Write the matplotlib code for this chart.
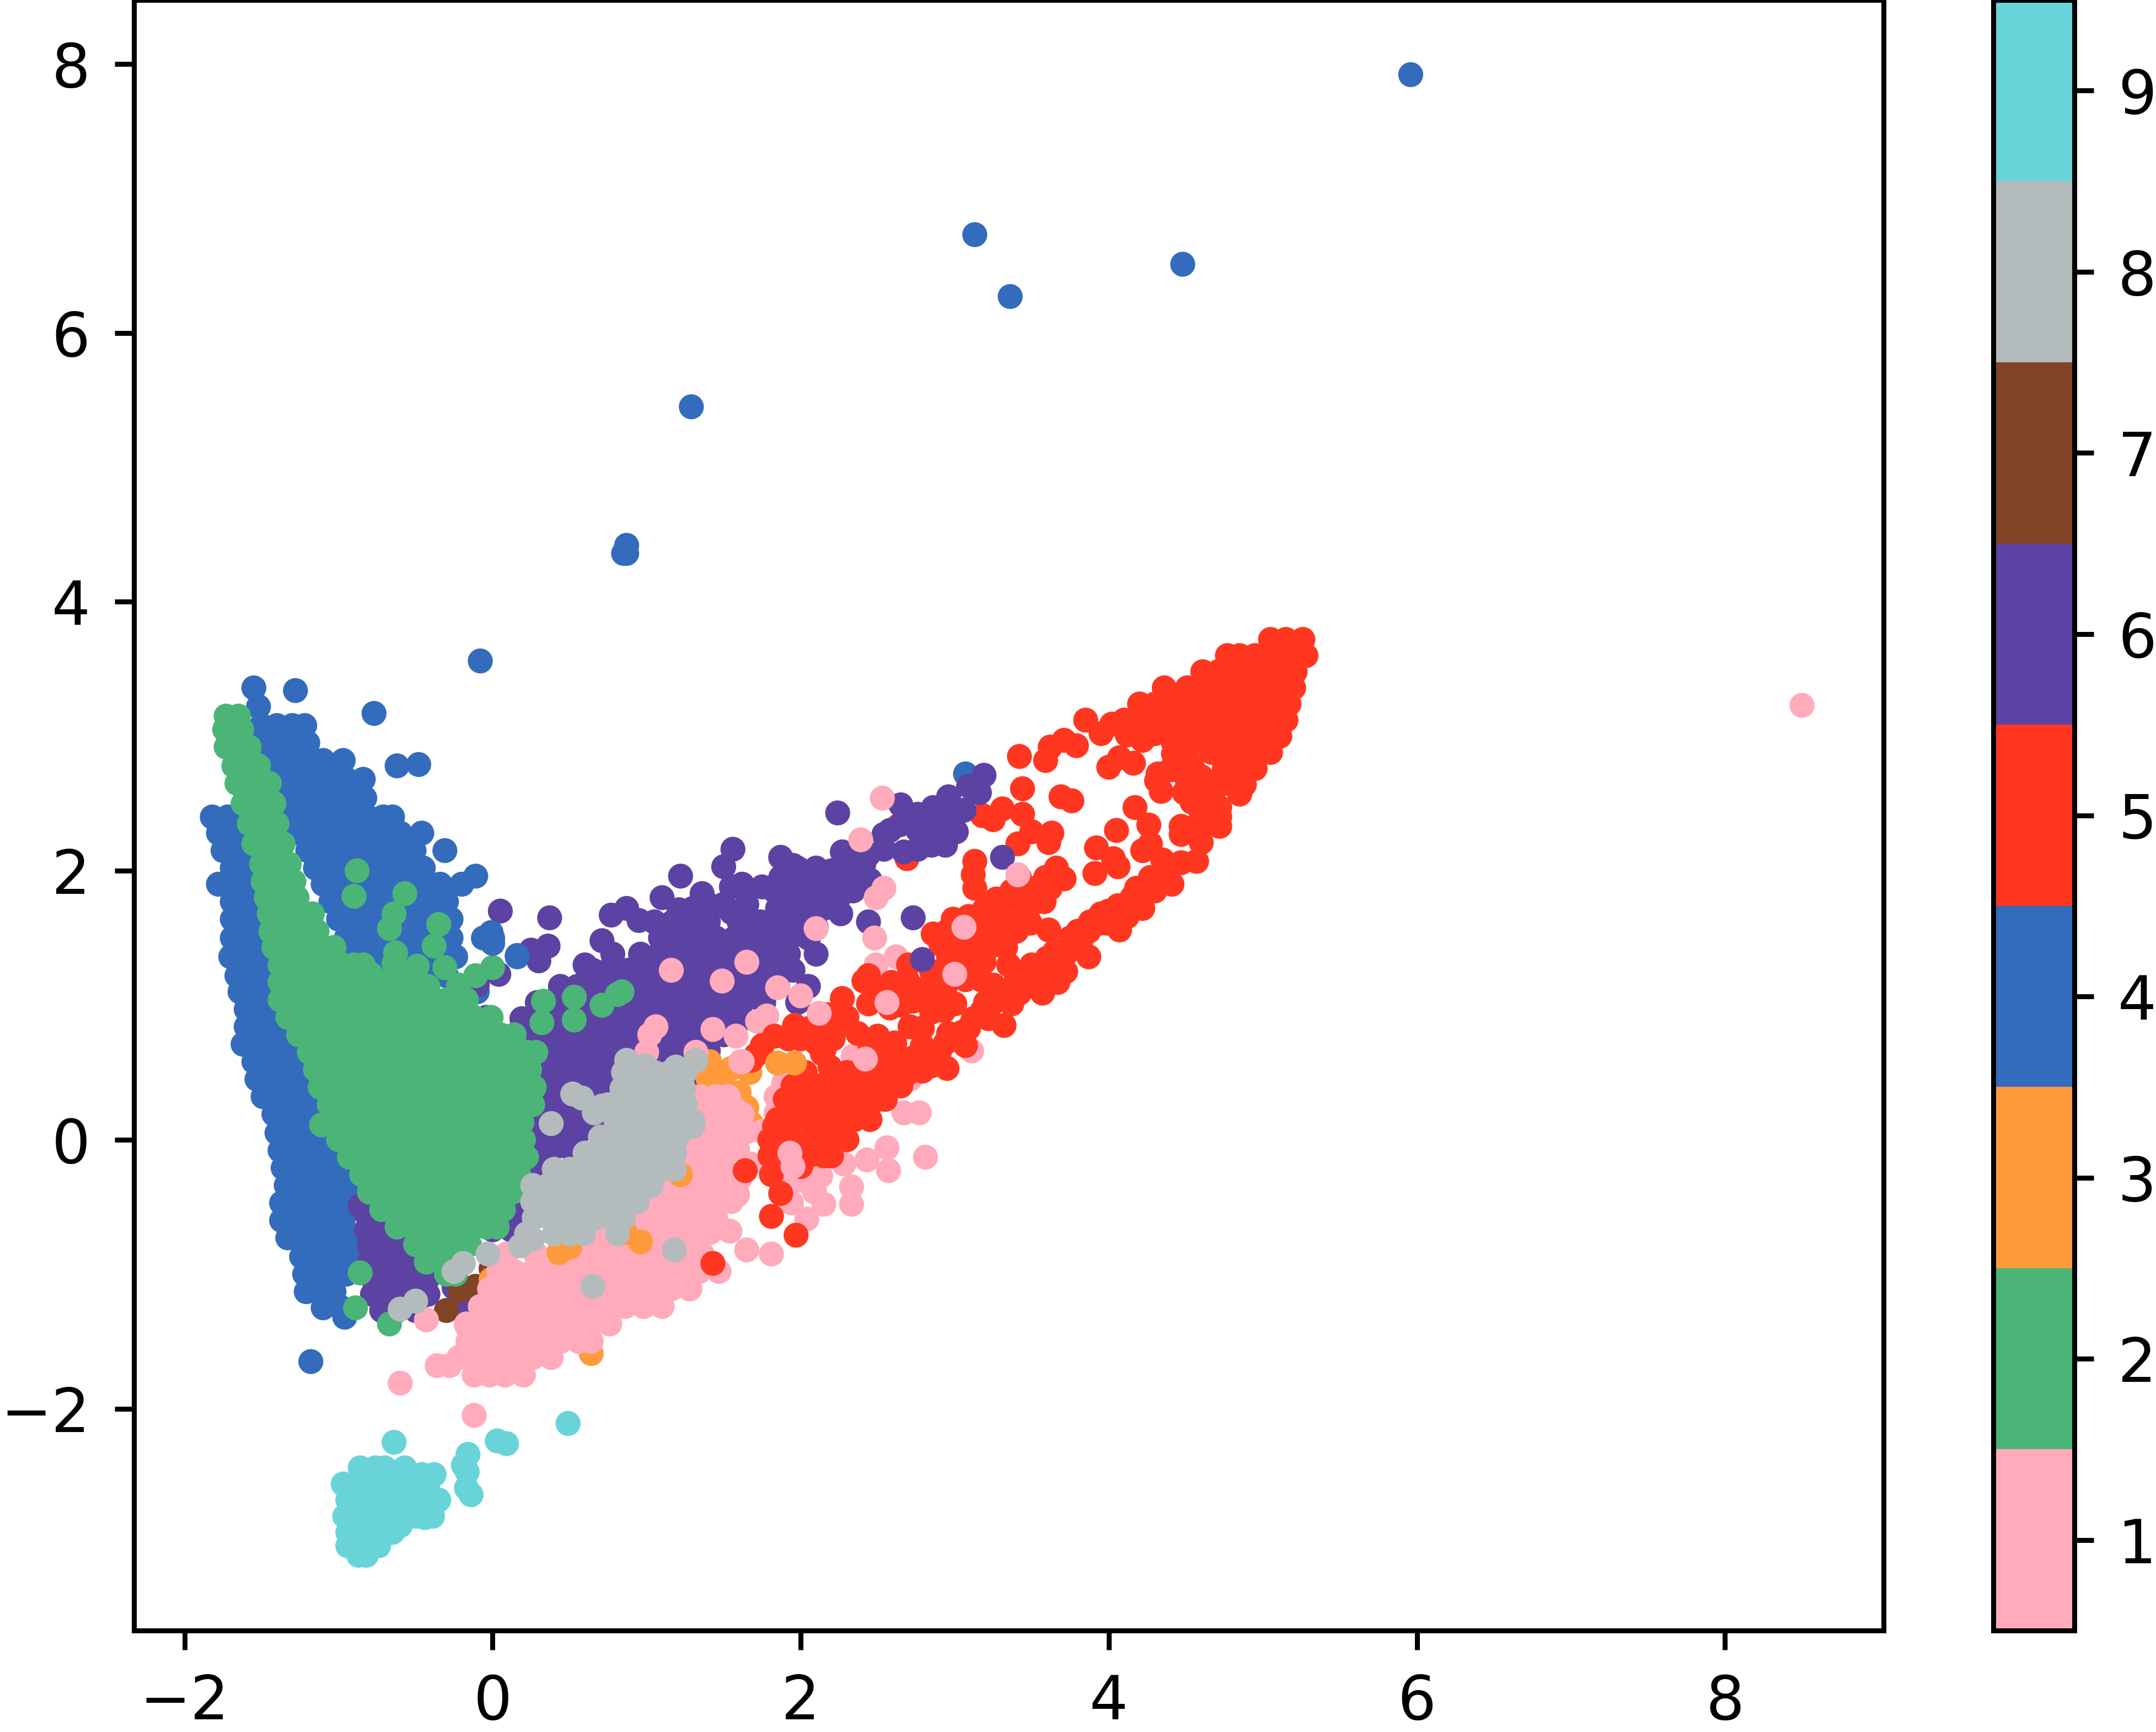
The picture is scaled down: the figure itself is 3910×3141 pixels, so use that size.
import matplotlib
matplotlib.use('Agg')
import matplotlib.pyplot as plt
from matplotlib.colors import ListedColormap, BoundaryNorm

W, H, DPI = 3910, 3141, 720

class_colors = ['#FFABBB', '#4AB577', '#FF9A3A', '#336CBC', '#FF3720', '#5C43A3', '#804325', '#B4BBBD', '#68D4D9']
class_ticks = [1, 2, 3, 4, 5, 6, 7, 8, 9]
x_ticks = [-2, 0, 2, 4, 6, 8]
y_ticks = [-2, 0, 2, 4, 6, 8]

# dense clusters are written row by row: {y: [x, x, ...]}
blue_rows = {
    3.22: [-1.52], 3.08: [-1.5, -1.4, -1.3, -1.22], 2.95: [-1.5, -1.4, -1.3, -1.2],
    2.82: [-1.47, -1.37, -1.27, -1.17, -1.1, -0.97],
    2.68: [-1.45, -1.35, -1.25, -1.15, -1.05, -0.95, -0.84],
    2.54: [-1.43, -1.33, -1.23, -1.13, -1.03, -0.93, -0.83],
    2.40: [-1.82, -1.72, -1.41, -1.31, -1.21, -1.11, -1.01, -0.91, -0.81, -0.71, -0.65],
    2.28: [-1.78, -1.68, -1.58, -1.3, -1.2, -1.1, -1.0, -0.9, -0.8, -0.7, -0.6, -0.46],
    2.15: [-1.75, -1.65, -1.55, -1.2, -1.1, -1.0, -0.9, -0.8, -0.7, -0.6, -0.51, -0.31],
    2.02: [-1.69, -1.59, -1.5, -1.15, -1.05, -0.95, -0.85, -0.75, -0.65, -0.55, -0.45],
    1.90: [-1.78, -1.68, -1.58, -1.48, -1.1, -1.0, -0.9, -0.8, -0.7, -0.6, -0.5, -0.4, -0.34, -0.20],
    1.77: [-1.69, -1.59, -1.49, -1.05, -0.95, -0.85, -0.75, -0.65, -0.55, -0.46, -0.38, -0.30],
    1.64: [-1.69, -1.59, -1.49, -1.39, -1.0, -0.9, -0.8, -0.7, -0.6, -0.5, -0.4, -0.27],
    1.50: [-1.69, -1.59, -1.49, -1.39, -0.95, -0.85, -0.75, -0.65, -0.55, -0.45, -0.27, -0.06, 0.0],
    1.36: [-1.70, -1.6, -1.5, -1.4, -1.0, -0.9, -0.8, -0.7, -0.6, -0.5, -0.42, -0.28, -0.24, 0.16],
    1.22: [-1.66, -1.56, -1.46, -1.36, -1.28, -0.95, -0.9, -0.8, -0.7, -0.4, -0.3],
    1.10: [-1.64, -1.54, -1.44, -1.34, -1.24, -0.2, -0.1],
    0.97: [-1.6, -1.5, -1.4, -1.3, -1.2], 0.84: [-1.6, -1.5, -1.4, -1.3, -1.2],
    0.71: [-1.62, -1.52, -1.42, -1.32, -1.22], 0.58: [-1.55, -1.45, -1.35, -1.25, -1.15],
    0.45: [-1.53, -1.43, -1.33, -1.23, -1.13], 0.32: [-1.49, -1.39, -1.29, -1.19, -1.09],
    0.19: [-1.42, -1.32, -1.22, -1.12, -1.02], 0.05: [-1.4, -1.3, -1.2, -1.1, -1.0],
    -0.08: [-1.38, -1.28, -1.18, -1.08, -0.98], -0.21: [-1.36, -1.26, -1.16, -1.06, -0.96],
    -0.34: [-1.34, -1.24, -1.14, -1.04, -0.94], -0.47: [-1.37, -1.27, -1.17, -1.07, -0.97, -0.88],
    -0.60: [-1.37, -1.27, -1.17, -1.07, -0.97], -0.73: [-1.33, -1.23, -1.13, -1.03, -0.93],
    -0.87: [-1.24, -1.14, -1.04, -0.94, -0.86], -1.0: [-1.22, -1.12, -1.02, -0.95],
    -1.13: [-1.21, -1.11, -1.03], -1.25: [-1.1, -0.98], -1.32: [-0.96],
}
blue_pts = [(5.96, 7.92), (3.13, 6.73), (4.48, 6.51), (3.36, 6.27), (1.29, 5.45), (0.87, 4.42),
            (0.87, 4.36), (0.85, 4.36), (-0.08, 3.56), (-1.55, 3.36), (-1.28, 3.34), (-0.77, 3.17),
            (-0.62, 2.78), (-0.48, 2.79), (3.07, 2.72), (-1.18, -1.65), (-0.11, 1.96)]

purple_rows = {
    1.62: [1.05, 1.17, 1.29, 1.40, 1.6, 1.7, 1.74, 1.85, 1.95],
    1.50: [1.09, 1.21, 1.33, 1.45, 1.57, 1.69, 1.81, 1.93, 2.05],
    1.38: [0.78, 0.96, 1.08, 1.20, 1.32, 1.44, 1.56, 1.68, 1.75, 1.85, 1.92, 2.10],
    1.26: [0.65, 0.75, 0.88, 1.0, 1.12, 1.24, 1.36, 1.48, 1.60, 1.72, 1.85, 1.95],
    1.14: [0.44, 0.55, 0.65, 0.78, 0.90, 1.02, 1.14, 1.26, 1.38, 1.50, 1.62, 1.74, 1.85, 2.05],
    1.02: [0.29, 0.42, 0.54, 0.66, 0.78, 0.90, 1.02, 1.14, 1.26, 1.38, 1.50, 1.62, 1.76, 1.98],
    0.90: [0.19, 0.32, 0.44, 0.56, 0.68, 0.80, 0.92, 1.04, 1.16, 1.28, 1.40, 1.52, 1.62],
    0.78: [0.2, 0.32, 0.44, 0.56, 0.68, 0.80, 0.92, 1.04, 1.16, 1.28, 1.40, 1.5],
    0.66: [0.25, 0.38, 0.5, 0.62, 0.74, 0.86, 0.98, 1.1, 1.22, 1.34, 1.4],
    0.54: [0.2, 0.32, 0.44, 0.56, 0.68, 0.8, 0.92, 1.04, 1.16, 1.2],
    0.42: [0.25, 0.38, 0.5, 0.62, 0.74, 0.86, 0.98, 1.1],
    0.30: [0.2, 0.32, 0.44, 0.56, 0.68, 0.8, 0.92, 1.0],
    0.18: [0.22, 0.34, 0.46, 0.58, 0.7, 0.85], 0.06: [0.2, 0.32, 0.44, 0.56, 0.7],
    -0.06: [0.15, 0.28, 0.4, 0.5], -0.18: [0.1, 0.2, 0.3],
    -0.55: [-0.82, -0.70, -0.58, 0.1, 0.2, 0.3], -0.67: [-0.82, -0.7, -0.58, -0.46, 0.0, 0.12, 0.22],
    -0.79: [-0.8, -0.68, -0.56, -0.44], -0.91: [-0.8, -0.68, -0.56, -0.44, -0.34],
    -1.03: [-0.78, -0.66, -0.54, -0.42], -1.15: [-0.78, -0.66, -0.54, -0.42], -1.27: [-0.72, -0.62, -0.5],
}
purple_pts = [(0.05, 1.70), (0.37, 1.65), (0.36, 1.44), (0.25, 1.41), (0.30, 1.33), (0.04, 1.23), (-0.10, 1.15),
              (-0.04, 0.91), (0.60, 1.30), (0.71, 1.48), (0.96, 1.31), (0.77, 1.67), (0.87, 1.72), (0.95, 1.63),
              (1.10, 1.80), (1.22, 1.96), (1.36, 1.83), (1.56, 2.16), (1.50, 2.03), (1.62, 1.90), (1.55, 1.88),
              (1.87, 2.10), (1.95, 2.04), (1.83, 1.85), (1.55, 1.69), (1.21, 1.71), (1.98, 2.02), (2.2, 2.0), (2.1, 2.02),
              (2.27, 2.14), (2.34, 2.08), (2.24, 2.43), (2.34, 1.98), (2.44, 2.12), (2.41, 2.05), (2.45, 1.93), (2.34, 1.85),
              (2.26, 1.68), (2.26, 1.82), (2.15, 1.85), (2.05, 1.85), (1.95, 1.85), (2.15, 1.72), (2.05, 1.72),
              (1.95, 1.72), (1.85, 1.72), (2.1, 1.58), (2.0, 1.58), (1.9, 1.58), (2.44, 1.62), (2.73, 1.65),
              (-0.19, -1.22), (-0.12, -1.14), (-0.25, -1.1), (-0.86, -0.49),
              (1.65, 1.75), (1.75, 1.88), (1.87, 1.95), (1.98, 1.92), (2.1, 1.9), (2.2, 1.92), (1.5, 1.75), (1.4, 1.75), (1.3, 1.72)]
purple_top = [(3.31, 2.10), (2.79, 1.34), (2.54, 2.27), (2.65, 2.49), (2.76, 2.42), (2.86, 2.47), (2.96, 2.55), (3.09, 2.63),
              (3.19, 2.71), (3.16, 2.58), (3.06, 2.45), (2.96, 2.40), (2.86, 2.33), (2.76, 2.30), (2.66, 2.35), (2.58, 2.3),
              (2.94, 2.19), (3.01, 2.29), (2.85, 2.19), (2.76, 2.16), (2.67, 2.14), (2.54, 2.16)]

brown_pts = [(-0.3, -1.27), (-0.21, -1.12), (-0.11, -1.09), (-0.01, -0.96), (1.41, -0.59), (1.47, -0.30), (1.29, 0.44)]

orange_pts = [(0.64, -1.59), (0.35, -1.46), (0.99, -0.47), (1.65, 0.24), (1.68, 0.12), (1.67, 0.50), (1.41, 0.58),
              (1.49, 0.48), (1.55, 0.53), (-0.01, -1.04), (1.5, 0.4), (1.6, 0.35), (1.4, 0.45)]
orange_top = [(1.85, 0.57), (1.96, 0.57), (0.43, -0.84), (0.5, -0.8), (0.96, -0.76), (0.86, -0.69), (1.22, -0.26)]

pink_rows = {
    -1.75: [-0.12, -0.02, 0.08, 0.2], -1.62: [-0.22, -0.1, 0.02, 0.14, 0.26, 0.38],
    -1.50: [-0.16, -0.04, 0.08, 0.2, 0.32, 0.44, 0.56, 0.64],
    -1.37: [-0.17, -0.08, 0.04, 0.16, 0.28, 0.40, 0.52, 0.64, 0.76],
    -1.24: [-0.08, 0.02, 0.14, 0.26, 0.38, 0.50, 0.62, 0.74, 0.86, 0.98, 1.10],
    -1.11: [-0.02, 0.08, 0.20, 0.32, 0.44, 0.56, 0.68, 0.80, 0.92, 1.04, 1.16, 1.28],
    -0.98: [0.04, 0.14, 0.26, 0.38, 0.50, 0.62, 0.74, 0.86, 0.98, 1.10, 1.22, 1.34, 1.47],
    -0.85: [0.09, 0.28, 0.56, 0.68, 0.80, 0.92, 1.04, 1.16, 1.28, 1.36],
    -0.72: [0.68, 0.80, 0.92, 1.04, 1.16, 1.28], -0.59: [0.9, 1.02, 1.14, 1.26, 1.38, 1.45],
    -0.46: [1.0, 1.12, 1.24, 1.36, 1.46, 1.55], -0.33: [1.10, 1.22, 1.34, 1.46, 1.55], -0.20: [1.18, 1.30, 1.42, 1.5],
    -0.07: [1.22, 1.34, 1.46, 1.59], 0.06: [1.3, 1.42, 1.54, 1.65, 1.75], 0.19: [1.30, 1.40, 1.52, 1.62],
    0.32: [1.35, 1.45, 1.52],
}
pink_pts = [(8.5, 3.23), (-0.6, -1.81), (-0.12, -2.05), (-0.43, -1.34), (-0.36, -1.68), (-0.28, -1.68), (-0.17, -1.38),
            (1.41, -0.69), (1.54, -0.68), (1.65, -0.82), (1.81, -0.85), (1.59, -0.41), (1.46, -0.39), (1.67, -0.18),
            (1.84, 0.32), (1.89, 0.42), (1.94, -0.47), (2.09, -0.39), (2.15, -0.48), (2.04, -0.59), (2.13, -0.27),
            (2.33, -0.35), (2.33, -0.48), (2.28, -0.18), (2.43, -0.15), (2.56, -0.06), (2.57, -0.23), (2.81, -0.13),
            (2.67, 0.20), (2.77, 0.20), (1.02, 0.78), (1.0, 0.65), (1.32, 0.65), (2.0, -0.3), (1.9, -0.3), (1.6, -0.3),
            (2.49, 1.30), (2.62, 1.36), (3.11, 0.66), (2.34, 0.62), (2.41, 0.54), (2.45, 0.63), (2.71, 0.45), (1.91, 0.41),
            (1.85, 1.13), (2.0, 1.07), (1.72, 0.88), (1.78, 0.92), (1.58, 0.77), (1.76, 0.06), (1.84, 0.2)]
pink_top = [(1.16, 1.26), (1.65, 1.32), (1.49, 1.18), (1.43, 0.82), (1.06, 0.84), (2.53, 2.54), (2.39, 2.23), (2.54, 1.87),
            (2.49, 1.80), (2.10, 1.57), (2.48, 1.50), (3.06, 1.58), (3.41, 1.97), (3.0, 1.23), (2.56, 1.02), (2.12, 0.94),
            (1.62, 0.58), (1.93, -0.10), (1.95, -0.2), (1.58, 0.22), (1.53, 0.32), (1.61, 0.58), (1.52, 0.31), (2.42, 0.6)]

red_rows = {
    3.72: [5.05, 5.15, 5.26], 3.60: [4.77, 4.85, 4.95, 5.05, 5.15, 5.25, 5.28],
    3.48: [4.61, 4.71, 4.81, 4.91, 5.01, 5.11, 5.21], 3.36: [4.36, 4.51, 4.6, 4.7, 4.8, 4.9, 5.0, 5.1, 5.2],
    3.24: [4.2, 4.3, 4.4, 4.5, 4.6, 4.7, 4.8, 4.9, 5.0, 5.1, 5.17],
    3.12: [4.18, 4.3, 4.4, 4.5, 4.6, 4.65, 4.75, 4.85, 4.9, 5.0, 5.1, 5.15],
    3.00: [4.85, 4.95, 5.05, 5.11], 2.88: [4.75, 4.85, 4.95, 5.05], 2.76: [4.75, 4.85, 4.95], 2.64: [4.72, 4.8, 4.88],
    2.95: [4.42, 4.5, 4.55, 4.7, 4.8],
    0.40: [1.95, 2.0, 2.1, 2.2, 2.3, 2.4, 2.5, 2.6, 2.65], 0.30: [1.9, 2.0, 2.1, 2.2, 2.3, 2.4, 2.5, 2.55],
    0.15: [1.85, 1.95, 2.05, 2.15, 2.25, 2.35, 2.45], 0.0: [1.8, 1.85, 1.95, 2.05, 2.15, 2.2, 2.3],
    -0.12: [1.8, 1.95, 2.05, 1.9, 2.15, 2.2],
}
red_pts = [(3.85, 3.12), (4.02, 3.09), (4.10, 3.12), (3.95, 3.02), (3.79, 2.93), (3.71, 2.97), (3.62, 2.92), (3.59, 2.82),
           (3.42, 2.85), (4.22, 2.97), (4.30, 3.02), (4.12, 3.01), (4.42, 3.02), (4.55, 3.10), (4.6, 3.05), (4.45, 3.13),
           (4.72, 3.06), (4.42, 2.87), (4.54, 2.79), (4.67, 2.88), (4.07, 2.84), (4.0, 2.77), (4.16, 2.8), (4.32, 2.72),
           (4.31, 2.67), (4.34, 2.59), (4.49, 2.58), (4.56, 2.59), (4.54, 2.51), (4.72, 2.47), (4.85, 2.57), (4.6, 2.4),
           (4.72, 2.40), (4.72, 2.33), (4.47, 2.33), (4.47, 2.27), (4.6, 2.29), (4.6, 2.21), (4.57, 2.07), (4.17, 2.47),
           (4.26, 2.34), (4.05, 2.3), (3.92, 2.17), (4.27, 2.2), (4.22, 2.15), (4.03, 2.09), (4.06, 2.03), (3.91, 1.98),
           (4.35, 2.08), (4.47, 2.06), (4.27, 1.95), (4.41, 1.9), (4.18, 1.87), (4.22, 1.79), (4.06, 1.74), (4.22, 1.72),
           (4.12, 1.66), (3.99, 1.61), (4.07, 1.56), (3.87, 1.55), (3.94, 1.61), (3.82, 1.48), (3.87, 1.36), (3.72, 1.38),
           (3.78, 1.42), (3.72, 1.25), (3.59, 1.27), (3.67, 1.17), (3.47, 1.22), (3.42, 1.09), (3.57, 1.09), (3.37, 1.01),
           (3.32, 0.85), (3.22, 0.9), (3.18, 0.96), (3.09, 0.83), (2.96, 0.79), (3.07, 0.7), (2.94, 0.72), (2.79, 0.7),
           (2.95, 0.53), (2.79, 0.51), (2.69, 0.49), (2.59, 0.41), (2.61, 0.62), (2.54, 0.46), (2.85, 0.6), (2.7, 0.6),
           (3.66, 2.02), (3.71, 1.94), (3.62, 1.87), (3.52, 1.87), (3.42, 1.95), (3.59, 1.95), (3.58, 1.77), (3.47, 1.82),
           (3.37, 1.85), (3.27, 1.79), (3.19, 1.71), (3.47, 1.71), (3.39, 1.66), (3.61, 1.56), (3.49, 1.61), (3.09, 1.66),
           (2.99, 1.64), (2.86, 1.53), (3.22, 1.66), (3.32, 1.66), (3.14, 1.56), (3.27, 1.53), (3.33, 1.43), (3.22, 1.43),
           (3.12, 1.46), (3.02, 1.48), (2.91, 1.45), (2.96, 1.35), (3.09, 1.35), (3.19, 1.32), (3.35, 1.30), (3.07, 1.19),
           (2.94, 1.14), (2.83, 1.11), (3.17, 1.19), (3.25, 1.15), (2.69, 1.19), (2.59, 1.17), (2.44, 1.22), (2.41, 1.18),
           (2.51, 1.11), (2.44, 1.01), (2.58, 0.98), (2.73, 1.03), (2.94, 0.98), (3.0, 1.01), (2.84, 1.03), (2.71, 0.84),
           (2.79, 0.83), (2.93, 0.96), (3.0, 1.3), (2.85, 1.25), (2.7, 1.3),
           (3.13, 2.07), (3.12, 1.97), (3.13, 1.87), (3.44, 2.61), (3.69, 2.55), (3.76, 2.52), (3.44, 2.42), (3.31, 2.46),
           (3.25, 2.38), (3.18, 2.41), (3.5, 2.29), (3.63, 2.28), (3.61, 2.21), (3.41, 2.2), (2.69, 2.09), (2.64, 2.34),
           (2.27, 1.05), (2.17, 0.93), (1.96, 0.85), (1.83, 0.77), (1.92, 0.75), (2.06, 0.83), (2.16, 0.8), (2.3, 0.91),
           (2.21, 0.75), (2.37, 0.79), (2.5, 0.77), (2.15, 0.66), (2.19, 0.54), (2.02, 0.5), (1.68, 0.59), (2.61, 0.72),
           (1.64, -0.23), (1.81, -0.26), (1.87, -0.40), (1.81, -0.57), (1.97, -0.71), (1.43, -0.92), (2.0, -0.2), (2.09, -0.10),
           (1.89, 0.06), (1.83, 0.10), (2.09, 0.06), (1.99, 0.27), (2.14, 0.64), (2.03, 0.5), (1.71, 0.63), (2.85, 0.55),
           (4.35, 1.95), (4.3, 1.85), (4.15, 1.8), (4.12, 1.72), (4.0, 1.7), (3.95, 1.68), (3.88, 1.62), (3.8, 1.55),
           (3.75, 1.5), (3.65, 1.4), (3.6, 1.35), (3.5, 1.3), (3.4, 1.2), (3.3, 1.1), (3.5, 1.15), (3.25, 1.02), (3.2, 1.02),
           (3.12, 0.9), (3.05, 0.8), (2.9, 0.65), (2.75, 0.62), (2.65, 0.55), (2.5, 0.55), (2.4, 0.5), (2.3, 0.5),
           (3.3, 1.75), (3.4, 1.75), (3.5, 1.75), (3.2, 1.58), (3.4, 1.55), (3.05, 1.58), (2.95, 1.55), (3.05, 1.25),
           (2.75, 1.12), (2.65, 1.08), (2.85, 0.95), (3.15, 1.25), (2.65, 1.0), (1.75, 0.7), (2.0, 0.75), (2.1, 0.72),
           (2.25, 0.85), (2.45, 0.7), (2.55, 0.65), (4.6, 2.5), (4.8, 2.68), (4.65, 2.62), (4.6, 2.7), (4.5, 2.7), (4.4, 2.75)]

grey_under = [(-0.37, -0.73), (0.06, -0.44), (-0.02, -0.47)]
green_rows = {
    3.15: [-1.73, -1.65], 3.05: [-1.74, -1.63], 2.92: [-1.73, -1.63, -1.58], 2.78: [-1.68, -1.60, -1.52],
    2.65: [-1.66, -1.58, -1.50, -1.45], 2.50: [-1.62, -1.52, -1.42], 2.35: [-1.58, -1.49, -1.40],
    2.20: [-1.55, -1.45, -1.36], 2.05: [-1.50, -1.40, -1.32], 1.92: [-1.49, -1.39, -1.29],
    1.80: [-1.47, -1.37, -1.27], 1.68: [-1.45, -1.35, -1.25, -1.17], 1.55: [-1.44, -1.34, -1.24, -1.14],
    1.43: [-1.42, -1.30, -1.20, -1.10, -1.03], 1.30: [-1.38, -1.28, -1.18, -1.08, -0.98, -0.9, -0.84],
    1.17: [-1.38, -1.26, -1.16, -1.06, -0.96, -0.86, -0.76, -0.7, -0.62],
    1.04: [-1.38, -1.26, -1.14, -1.02, -0.90, -0.78, -0.66, -0.54, -0.42, -0.30, -0.17],
    0.91: [-1.33, -1.20, -1.08, -0.96, -0.84, -0.72, -0.60, -0.48, -0.36, -0.24, -0.12, -0.01],
    0.78: [-1.26, -1.14, -1.02, -0.90, -0.78, -0.66, -0.54, -0.42, -0.30, -0.18, -0.06, 0.05, 0.14],
    0.65: [-1.19, -1.08, -0.96, -0.84, -0.72, -0.60, -0.48, -0.36, -0.24, -0.12, 0.0, 0.12, 0.22, 0.28],
    0.52: [-1.15, -1.02, -0.90, -0.78, -0.66, -0.54, -0.42, -0.30, -0.18, -0.06, 0.06, 0.16, 0.24],
    0.39: [-1.12, -1.00, -0.88, -0.76, -0.64, -0.52, -0.40, -0.28, -0.16, -0.04, 0.08, 0.18, 0.27],
    0.26: [-1.06, -0.94, -0.82, -0.70, -0.58, -0.46, -0.34, -0.22, -0.10, 0.02, 0.14, 0.26],
    0.13: [-1.05, -0.92, -0.80, -0.68, -0.56, -0.44, -0.32, -0.20, -0.08, 0.04, 0.12, 0.19],
    0.0: [-1.0, -0.88, -0.76, -0.64, -0.52, -0.40, -0.28, -0.16, -0.04, 0.08, 0.2],
    -0.13: [-0.93, -0.80, -0.68, -0.56, -0.44, -0.32, -0.20, -0.08, 0.04, 0.14, 0.22],
    -0.26: [-0.85, -0.74, -0.62, -0.50, -0.38, -0.26, -0.14, -0.02, 0.08, 0.17],
    -0.39: [-0.80, -0.68, -0.56, -0.44, -0.32, -0.20, -0.08, 0.04, 0.13],
    -0.52: [-0.72, -0.60, -0.48, -0.36, -0.24, -0.12, 0.0, 0.07],
    -0.65: [-0.62, -0.52, -0.40, -0.28, -0.16, -0.04, 0.03],
    -0.78: [-0.50, -0.38, -0.26, -0.15], -0.91: [-0.43, -0.33, -0.24], -1.0: [-0.30, -0.24],
}
green_pts = [(-0.88, 2.0), (-0.9, 1.81), (-0.57, 1.83), (-0.64, 1.68), (-0.67, 1.57), (-0.35, 1.60), (-0.38, 1.44),
             (-0.63, 1.39), (-0.64, 1.31), (-0.49, 1.29), (-0.31, 1.28), (-0.11, 1.22), (0.0, 1.28), (-0.42, 1.14),
             (-0.22, 1.15), (-0.55, 1.2), (0.33, 1.03), (0.53, 1.06), (0.53, 0.89), (0.71, 1.0), (0.81, 1.08), (0.84, 1.10),
             (0.32, 0.87), (-1.11, 0.11), (-0.89, -1.25), (-0.67, -1.37), (-0.86, -0.99), (-0.79, 1.23), (-0.6, 1.25), (-0.52, 1.1)]

grey_rows = {
    0.50: [0.85, 0.95, 1.05, 1.15, 1.25], 0.38: [0.84, 0.94, 1.04, 1.14, 1.24],
    0.26: [0.75, 0.85, 0.95, 1.05, 1.15, 1.25], 0.14: [0.8, 0.9, 1.0, 1.1, 1.2, 1.3],
    0.02: [0.7, 0.8, 0.9, 1.0, 1.1, 1.2], -0.10: [0.6, 0.7, 0.8, 0.9, 1.0, 1.1, 1.18],
    -0.22: [0.4, 0.5, 0.6, 0.7, 0.8, 0.9, 1.0, 1.1, 1.18], -0.34: [0.26, 0.36, 0.46, 0.56, 0.66, 0.76, 0.86, 0.96, 1.03],
    -0.46: [0.26, 0.36, 0.46, 0.56, 0.66, 0.76, 0.86, 0.94], -0.58: [0.27, 0.37, 0.47, 0.57, 0.67, 0.77, 0.85],
    -0.70: [0.22, 0.4, 0.5, 0.59, 0.81],
}
grey_pts = [(1.32, 0.59), (1.19, 0.54), (0.87, 0.59), (0.99, 0.55), (0.52, 0.34), (0.58, 0.31), (0.71, 0.25), (0.66, 0.2),
            (0.38, 0.12), (1.3, 0.1), (0.18, -0.79), (-0.03, -0.85), (-0.19, -0.92), (-0.25, -0.98), (-0.5, -1.2), (-0.6, -1.26),
            (0.65, -1.09), (1.18, -0.82), (0.26, -0.74)]

cyan_rows = {
    -2.44: [-0.86, -0.76, -0.70, -0.57], -2.56: [-0.86, -0.74, -0.62, -0.5, -0.42, -0.97],
    -2.68: [-0.94, -0.82, -0.7, -0.58, -0.46, -0.35], -2.80: [-0.96, -0.84, -0.72, -0.6, -0.5, -0.39],
    -2.92: [-0.94, -0.82, -0.7, -0.65], -3.02: [-0.94, -0.84, -0.74], -3.09: [-0.87, -0.82],
}
cyan_pts = [(-0.64, -2.25), (0.49, -2.11), (0.03, -2.24), (0.09, -2.26), (-0.16, -2.34), (-0.19, -2.42), (-0.165, -2.47),
            (-0.17, -2.59), (-0.14, -2.64), (-0.38, -2.49), (-0.46, -2.49), (-0.44, -2.81), (-0.6, -2.87)]


def from_rows(rows):
    return [(x, y) for y, xs in rows.items() for x in xs]


# draw order decides which class ends up on top
layers = [(4, from_rows(blue_rows)), (4, blue_pts), (6, from_rows(purple_rows)), (6, purple_pts), (7, brown_pts),
          (3, orange_pts), (1, from_rows(pink_rows)), (1, pink_pts), (5, from_rows(red_rows)), (5, red_pts),
          (3, orange_top), (6, purple_top), (1, pink_top), (8, grey_under), (2, from_rows(green_rows)),
          (2, green_pts), (8, from_rows(grey_rows)), (8, grey_pts), (9, from_rows(cyan_rows)), (9, cyan_pts),
          (4, [(0.16, 1.37), (0.0, 1.46), (-0.01, 1.54)])]

xs, ys, labels = [], [], []
for label, pts in layers:
    for x, y in pts:
        xs.append(x)
        ys.append(y)
        labels.append(label)

plt.rcParams['font.size'] = 11
plt.rcParams['axes.linewidth'] = 0.9
plt.rcParams['xtick.major.width'] = 0.9
plt.rcParams['ytick.major.width'] = 0.9
plt.rcParams['ytick.major.pad'] = 4.4
plt.rcParams['xtick.major.pad'] = 4.2

fig = plt.figure(figsize=(W / DPI, H / DPI), dpi=DPI)
ax = fig.add_axes([242.5 / W, 1 - 2957 / H, (3416 - 242.5) / W, 2957 / H])
cax = fig.add_axes([3614.5 / W, 1 - 2957 / H, (3762 - 3614.5) / W, 2957 / H])

cmap = ListedColormap(class_colors)
norm = BoundaryNorm([0.5, 1.5, 2.5, 3.5, 4.5, 5.5, 6.5, 7.5, 8.5, 9.5], 9)
sc = ax.scatter(xs, ys, c=labels, cmap=cmap, norm=norm, s=20.5, linewidths=0)
ax.set_xlim(-2.33, 9.03)
ax.set_ylim(-3.65, 8.475)
ax.set_xticks(x_ticks)
ax.set_yticks(y_ticks)

cb = fig.colorbar(sc, cax=cax, ticks=class_ticks)
cb.minorticks_off()

fig.savefig('out.png', dpi=DPI)
